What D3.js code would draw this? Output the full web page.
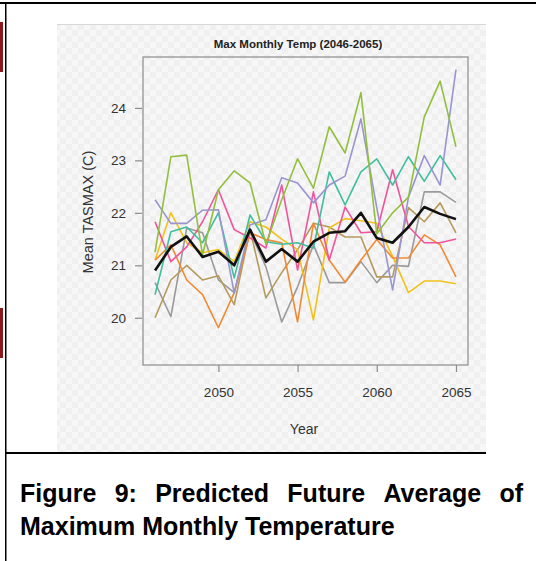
<!DOCTYPE html>
<html>
<head>
<meta charset="utf-8">
<script src="https://cdn.jsdelivr.net/npm/d3@7"></script>
<style>
html,body{margin:0;padding:0;background:#fff;}
svg{display:block;}
</style>
</head>
<body>
<svg id="c" width="536" height="561"></svg>
<script>
const years = [2046,2047,2048,2049,2050,2051,2052,2053,2054,2055,2056,2057,2058,2059,2060,2061,2062,2063,2064,2065];
const green  = [21.25,23.07,23.10,21.20,22.44,22.80,22.57,21.40,22.25,23.03,22.47,23.64,23.14,24.29,21.60,22.00,22.30,23.83,24.51,23.26];
const purple = [22.25,21.80,21.80,22.05,22.06,20.47,21.77,21.87,22.67,22.57,22.19,22.53,22.70,23.79,22.10,20.53,22.30,23.09,22.53,24.73];
const teal   = [20.44,21.64,21.73,21.43,22.00,20.76,21.96,21.45,21.40,21.43,21.33,22.78,22.15,22.78,23.03,22.53,23.07,22.60,23.09,22.63];
const pink   = [21.83,21.07,21.35,21.83,22.44,21.68,21.52,21.33,22.53,20.91,22.40,21.10,22.11,21.62,21.64,22.82,21.74,21.43,21.43,21.50];
const orange = [21.10,21.39,20.72,20.44,19.81,20.48,21.62,21.49,21.43,19.92,21.80,21.10,20.68,21.10,21.49,21.14,21.14,21.58,21.39,20.78];
const yellow = [21.10,22.00,21.43,21.24,21.30,21.07,21.83,21.73,21.50,21.30,19.96,21.71,21.89,21.85,21.80,21.17,20.48,20.70,20.70,20.65];
const tan    = [20.00,20.72,21.00,20.72,20.80,20.25,21.68,20.38,20.86,21.30,21.80,21.73,21.54,21.54,20.78,20.78,22.10,21.83,22.19,21.62];
const gray   = [20.67,20.02,21.71,21.62,20.72,20.48,21.64,20.97,19.92,20.59,21.39,20.67,20.67,21.07,20.67,21.00,20.98,22.40,22.40,22.20];
const meanSeries = [20.90,21.35,21.55,21.16,21.26,21.00,21.68,21.07,21.31,21.07,21.45,21.62,21.65,22.00,21.52,21.43,21.73,22.11,21.98,21.88];
const xTicks = [2050,2055,2060,2065];
const yTicks = [20,21,22,23,24];
const chartTitle = "Max Monthly Temp (2046-2065)";
const xLabel = "Year";
const yLabel = "Mean TASMAX (C)";
const captionLine1 = ["Figure","9:","Predicted","Future","Average","of"];
const captionLine2 = "Maximum Monthly Temperature";

const seriesList = [
  {name:"gray", values:gray, color:"#9a9a9a"},
  {name:"tan", values:tan, color:"#b59a5c"},
  {name:"yellow", values:yellow, color:"#f1c21b"},
  {name:"orange", values:orange, color:"#f08a34"},
  {name:"pink", values:pink, color:"#f0549c"},
  {name:"teal", values:teal, color:"#3fbf9c"},
  {name:"purple", values:purple, color:"#9995d0"},
  {name:"green", values:green, color:"#93bf3f"}
];

const svg = d3.select("#c");
const defs = svg.append("defs");
const pat = defs.append("pattern").attr("id","chk").attr("width",12).attr("height",12).attr("patternUnits","userSpaceOnUse");
pat.append("rect").attr("width",12).attr("height",12).attr("fill","#f0f0f0");
pat.append("rect").attr("width",6).attr("height",6).attr("fill","#f7f7f7");
pat.append("rect").attr("x",6).attr("y",6).attr("width",6).attr("height",6).attr("fill","#f7f7f7");

// page decorations
svg.append("rect").attr("x",0).attr("y",2).attr("width",536).attr("height",2).attr("fill","#000");
svg.append("rect").attr("x",5).attr("y",2).attr("width",1.5).attr("height",559).attr("fill","#000");
svg.append("rect").attr("x",0).attr("y",22).attr("width",3).attr("height",50).attr("fill","#8b1a1a");
svg.append("rect").attr("x",0).attr("y",308).attr("width",3).attr("height",50).attr("fill","#8b1a1a");

// chart image background
svg.append("rect").attr("x",57).attr("y",24).attr("width",429).attr("height",428).attr("fill","url(#chk)");
svg.append("line").attr("x1",57).attr("x2",486).attr("y1",24.5).attr("y2",24.5).attr("stroke","#d8d8d8");
svg.append("rect").attr("x",5).attr("y",452).attr("width",481).attr("height",2).attr("fill","#000");

const L=143, R=468, T=57, B=365;
const x = d3.scaleLinear().domain([2045.24,2065.76]).range([L,R]);
const y = d3.scaleLinear().domain([19.1,24.97]).range([B,T]);

const g = svg.append("g");
const line = d3.line().x((d,i)=>x(years[i])).y(d=>y(d));

seriesList.forEach(s=>{
  g.append("path").datum(s.values).attr("d",line).attr("fill","none")
   .attr("stroke",s.color).attr("stroke-width",1.6).attr("stroke-linejoin","round");
});
g.append("path").datum(meanSeries).attr("d",line).attr("fill","none")
  .attr("stroke","#111").attr("stroke-width",2.6).attr("stroke-linejoin","round");

// box
svg.append("rect").attr("x",L).attr("y",T).attr("width",R-L).attr("height",B-T)
  .attr("fill","none").attr("stroke","#8c8c8c").attr("stroke-width",1.2);

// axes
const xAxis = svg.append("g").attr("transform",`translate(0,${B})`)
  .call(d3.axisBottom(x).tickValues(xTicks).tickSize(7).tickPadding(15).tickFormat(d3.format("d")));
const yAxis = svg.append("g").attr("transform",`translate(${L-8},0)`)
  .call(d3.axisLeft(y).tickValues(yTicks).tickSize(7).tickPadding(9).tickFormat(d3.format("d")));
[xAxis,yAxis].forEach(a=>{
  a.select(".domain").remove();
  a.selectAll(".tick line").attr("stroke","#8c8c8c").attr("stroke-width",1.2);
  a.selectAll(".tick text").attr("fill","#333").attr("font-family","Liberation Sans, Arial, sans-serif").attr("font-size",13.5);
});
yAxis.selectAll(".tick line").attr("transform","translate(7,0)");
yAxis.selectAll(".tick text").attr("dx",7);

svg.append("text").attr("x",298).attr("y",48).attr("text-anchor","middle")
  .attr("font-family","Liberation Sans, Arial, sans-serif").attr("font-weight","bold").attr("font-size",11.5)
  .attr("fill","#222").text(chartTitle);
svg.append("text").attr("x",304).attr("y",434).attr("text-anchor","middle")
  .attr("font-family","Liberation Sans, Arial, sans-serif").attr("font-size",14)
  .attr("fill","#333").text(xLabel);
svg.append("text").attr("transform","translate(93,212) rotate(-90)").attr("text-anchor","middle")
  .attr("font-family","Liberation Sans, Arial, sans-serif").attr("font-size",14.5)
  .attr("fill","#333").text(yLabel);

// caption
const capFont = "Liberation Sans, Arial, sans-serif";
const capSize = 25;
const x0 = 20, x1 = 523;
const words = captionLine1.map(w=>svg.append("text").attr("y",502).attr("font-family",capFont)
  .attr("font-weight","bold").attr("font-size",capSize).attr("fill","#000").text(w));
const widths = words.map(t=>t.node().getComputedTextLength());
const total = d3.sum(widths);
const gap = (x1-x0-total)/(words.length-1);
let cx = x0;
words.forEach((t,i)=>{ t.attr("x",cx); cx += widths[i]+gap; });
svg.append("text").attr("x",x0).attr("y",535).attr("font-family",capFont)
  .attr("font-weight","bold").attr("font-size",capSize).attr("fill","#000").text(captionLine2);
</script>
</body>
</html>
